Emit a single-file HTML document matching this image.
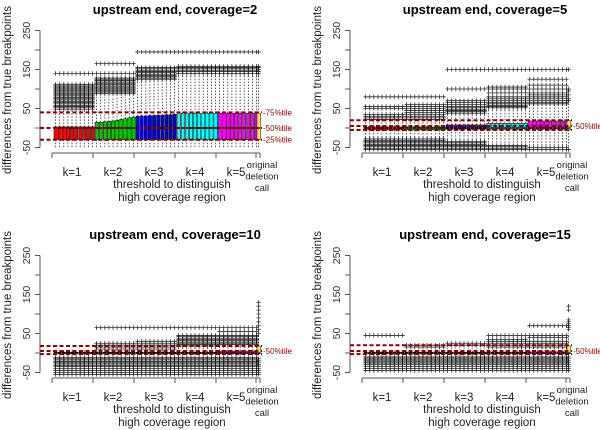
<!DOCTYPE html>
<html><head><meta charset="utf-8"><style>
body{margin:0;background:#fff}
svg{display:block;font-family:"Liberation Sans",sans-serif}
</style></head><body>
<svg id="c" width="600" height="430" viewBox="0 0 600 430" xmlns="http://www.w3.org/2000/svg"></svg>
<script>
const groups = ["k=1","k=2","k=3","k=4","k=5","original"];
const yTicks = [-50,0,50,100,150,200,250];
const yTickLabels = ["-50","","50","","150","","250"];
const colors = ["#ff0000","#00cc00","#0000ee","#00ffff","#ff00ff","#ffff00"];
const titles = ["upstream end, coverage=2","upstream end, coverage=5","upstream end, coverage=10","upstream end, coverage=15"];

// panel 1
const p1Q1 = [-30,-30,-30,-30,-30,-30];
const p1Med = [0,0,0,0,0,0];
const p1Q3 = [3,[15,15,16,17,18,20,22,24,26,28],[30,31,31,32,32,33,33,34,34,35],38,38,38];
const p1WLo = [-50,-50,-50,-50,-50,-50];
const p1WHi = [45,80,120,140,140,140];
const p1OutHi = [[48,52,55,58,62,65,68,72,75,78,82,85,88,92,95,98,102,105,108,112,140],[88,92,95,98,102,105,108,112,115,118,122,125,128,140,165],[125,128,132,135,138,142,145,148,152,155,195],[140,145,148,152,155,158,195],[140,145,148,152,155,158,195],[140,145,150,155,158,195]];
const p1OutLo = [[],[],[],[],[],[]];
const p1Ref = [40,0,-30];
const p1RefLabels = ["75%tile","50%tile","25%tile"];

// panel 2
const p2Q1 = [-5,-5,-3,-3,-3,-5];
const p2Med = [0,0,0,0,0,0];
const p2Q3 = [3,3,8,12,18,20];
const p2WLo = [-25,-25,-30,-40,-45,-50];
const p2WHi = [20,25,35,50,60,75];
const p2OutHi = [[22,26,30,35,50,55,80],[22,26,30,35,40,45,50,55,60,80],[38,42,45,48,52,55,60,65,70,100,150],[52,55,58,62,65,70,75,80,90,100,105,150],[62,65,70,75,80,85,90,100,110,125,150],[70,75,85,95,100,150]];
const p2OutLo = [[-28,-32,-35,-38,-42,-45,-48,-52,-55],[-28,-32,-35,-38,-42,-45,-48,-52,-55],[-35,-38,-42,-45,-48,-52,-55],[-45,-48,-52,-55],[-50,-55],[-55]];
const p2Ref = [20,5,-5];
const p2RefLabels = ["","50%tile",""];

// panel 3
const p3Q1 = [-2,-2,-2,-2,-2,-2];
const p3Med = [0,0,0,0,0,0];
const p3Q3 = [2,2,2,2,5,18];
const p3WLo = [-10,-10,-10,-10,-10,-10];
const p3WHi = [8,8,10,15,20,45];
const p3OutHi = [[],[10,15,20,25,65],[10,15,20,25,30,65],[18,22,25,28,32,35,38,42,45,65],[22,25,28,32,35,38,42,45,55,65],[50,60,70,80,90,100,110,120,130]];
const p3OutLo = [[-12,-15,-18,-22,-25,-28,-32,-35,-40,-45,-50,-55],[-12,-15,-18,-22,-25,-28,-32,-35,-40,-45,-50,-55],[-12,-15,-18,-22,-25,-28,-32,-35,-40,-45,-50,-55],[-12,-15,-18,-22,-25,-28,-32,-35,-40,-45,-50,-55],[-12,-15,-18,-22,-25,-28,-32,-35,-40,-45,-50,-55],[-15,-20,-25,-30,-35,-40,-45,-50,-55]];
const p3Ref = [18,5,-3];
const p3RefLabels = ["","50%tile",""];

// panel 4
const p4Q1 = [-2,-2,-2,-2,-2,-2];
const p4Med = [0,0,0,0,0,0];
const p4Q3 = [2,2,2,2,3,18];
const p4WLo = [-8,-8,-8,-8,-8,-8];
const p4WHi = [8,10,12,12,15,50];
const p4OutHi = [[45],[15,20],[20,25],[15,20,25,30,35,45],[15,20,25,30,40,45,70],[60,65,70,75,80,85,110,120]];
const p4OutLo = [[-10,-13,-16,-20,-23,-26,-30,-35,-40,-45],[-10,-13,-16,-20,-23,-26,-30,-35,-40,-45],[-10,-13,-16,-20,-23,-26,-30,-35,-40,-45],[-10,-13,-16,-20,-23,-26,-30,-35,-40,-45],[-10,-13,-16,-20,-23,-26,-30,-35,-40,-45],[-10,-15,-20,-25,-30,-35,-40,-45]];
const p4Ref = [20,5,-3];
const p4RefLabels = ["","50%tile",""];

const panels = [
 {dx:0,dy:0,q1:p1Q1,med:p1Med,q3:p1Q3,wlo:p1WLo,whi:p1WHi,oh:p1OutHi,ol:p1OutLo,ref:p1Ref,refl:p1RefLabels},
 {dx:310,dy:0,q1:p2Q1,med:p2Med,q3:p2Q3,wlo:p2WLo,whi:p2WHi,oh:p2OutHi,ol:p2OutLo,ref:p2Ref,refl:p2RefLabels},
 {dx:0,dy:225,q1:p3Q1,med:p3Med,q3:p3Q3,wlo:p3WLo,whi:p3WHi,oh:p3OutHi,ol:p3OutLo,ref:p3Ref,refl:p3RefLabels},
 {dx:310,dy:225,q1:p4Q1,med:p4Med,q3:p4Q3,wlo:p4WLo,whi:p4WHi,oh:p4OutHi,ol:p4OutLo,ref:p4Ref,refl:p4RefLabels}
];

const NS="http://www.w3.org/2000/svg";
const svg=document.getElementById('c');
function mk(tag,attrs,parent){const e=document.createElementNS(NS,tag);for(const k in attrs)e.setAttribute(k,attrs[k]);parent.appendChild(e);return e;}
const yS=v=>128-v*0.39;
const gStart=[52,93,134,175,216,257];
function boxX(g,i){return g<5?gStart[g]+2+i*4.1:257;}
function val(a,g,i){const v=a[g];return Array.isArray(v)?v[i]:v;}

panels.forEach((p,pi)=>{
 const G=mk('g',{transform:`translate(${p.dx},${p.dy})`},svg);
 
 
 const t=mk('text',{x:175,y:14,'text-anchor':'middle','font-size':'13','font-weight':'bold',fill:'#000'},G);
 t.textContent=titles[pi];
 
 
 const ax=mk('g',{},G);
 
 
 mk('line',{x1:40,x2:40,y1:yS(250),y2:yS(-50),stroke:'#555','stroke-width':1},ax);
 yTicks.forEach((v,i)=>{
  mk('line',{x1:35,x2:40,y1:yS(v),y2:yS(v),stroke:'#555','stroke-width':1},ax);
  if(yTickLabels[i]){const tl=mk('text',{x:30,y:yS(v),'text-anchor':'middle','font-size':'10.5',fill:'#333',transform:`rotate(-90 30 ${yS(v)})`},ax);tl.textContent=yTickLabels[i];
   
   }
 });
 const yt=mk('text',{x:11,y:90,'text-anchor':'middle','font-size':'11.5',fill:'#222',transform:'rotate(-90 11 90)'},G);
 yt.textContent='differences from true breakpoints';
 
 
 const xa=mk('g',{},G);
 
 
 mk('line',{x1:52,x2:260,y1:153,y2:153,stroke:'#555','stroke-width':1},xa);
 [52,93,134,175,216,256,260].forEach(x=>mk('line',{x1:x,x2:x,y1:153,y2:158,stroke:'#555','stroke-width':1},xa));
 groups.slice(0,5).forEach((g,i)=>{const tx=mk('text',{x:gStart[i]+20,y:176,'text-anchor':'middle','font-size':'11.5',fill:'#222'},xa);tx.textContent=g;
  
  });
 ['original','deletion','call'].forEach((w,i)=>{const tx=mk('text',{x:262,y:168+i*11.5,'text-anchor':'middle','font-size':'9.5',fill:'#222'},xa);tx.textContent=w;
  
  });
 ['threshold to distinguish','high coverage region'].forEach((w,i)=>{const tx=mk('text',{x:172,y:188+i*13,'text-anchor':'middle','font-size':'11.5',fill:'#222'},xa);tx.textContent=w;
  
  });
 for(let g=0;g<6;g++){
  const n=g<5?10:1;
  for(let i=0;i<n;i++){
   const x=boxX(g,i);
   const q1=val(p.q1,g,i),q3=val(p.q3,g,i),md=val(p.med,g,i),wl=val(p.wlo,g,i),wh=val(p.whi,g,i);
   const b=mk('g',{},G);
   
   
   mk('line',{x1:x+1.6,x2:x+1.6,y1:yS(q3),y2:yS(wh),stroke:'#111','stroke-width':0.7,'stroke-dasharray':'1.5,1.5'},b);
   mk('line',{x1:x+1.6,x2:x+1.6,y1:yS(q1),y2:yS(wl),stroke:'#111','stroke-width':0.7,'stroke-dasharray':'1.5,1.5'},b);
   mk('rect',{x:x,y:yS(q3),width:3.3,height:Math.max(0.5,yS(q1)-yS(q3)),fill:colors[g],stroke:'#000','stroke-width':0.5},b);
   mk('line',{x1:x,x2:x+3.3,y1:yS(md),y2:yS(md),stroke:'#000','stroke-width':1.3},b);
   [...p.oh[g],...p.ol[g]].forEach(v=>{
    const y=yS(v);
    mk('path',{d:`M${x-0.6} ${y}h4.4M${x+1.6} ${y-2.2}v4.4`,stroke:'#111','stroke-width':0.8,opacity:0.85},b);
   });
  }
 }
 p.ref.forEach((v,i)=>{
  const l=mk('line',{x1:40,x2:262,y1:yS(v),y2:yS(v),stroke:'#8b0000','stroke-width':2,'stroke-dasharray':'4,2.5'},G);
  
  
  if(p.refl[i]){const tx=mk('text',{x:263,y:yS(v)+3,'font-size':'8',fill:'#8b0000'},G);tx.textContent='-'+p.refl[i];
   
   }
 });
});
</script>
</body></html>
